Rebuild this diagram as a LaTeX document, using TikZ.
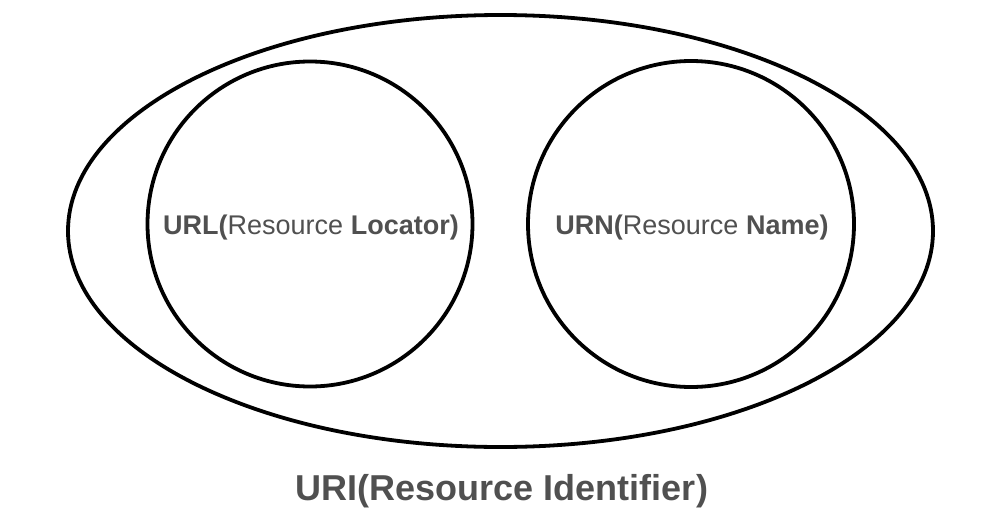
\documentclass[tikz,border=0pt]{standalone}
\usepackage{fontspec}
\setmainfont{Liberation Sans}
\definecolor{txtgray}{HTML}{505050}
\begin{document}
\begin{tikzpicture}[x=1pt,y=-1pt,
  ring/.style={draw=black,line width=3.8pt,fill=none},
  lbl/.style={text=txtgray,font=\fontsize{27}{30}\selectfont,inner sep=0pt,anchor=center},
  biglbl/.style={text=txtgray,font=\fontsize{36}{40}\selectfont\bfseries,inner sep=0pt,anchor=center}]
\useasboundingbox (0,0) rectangle (1006,522);
\draw[ring] (500.5,231) ellipse [x radius=432.5, y radius=216];
\draw[ring] (310,224) circle [radius=162.5];
\draw[ring] (691,224) circle [radius=163];
\node[lbl] (url) at (311,228) {\textbf{URL(}Resource \textbf{Locator)}};
\node[lbl] (urn) at (692,228) {\textbf{URN(}Resource \textbf{Name)}};
\node[biglbl] (uri) at (502,491) {URI(Resource Identifier)};
\end{tikzpicture}
\end{document}
